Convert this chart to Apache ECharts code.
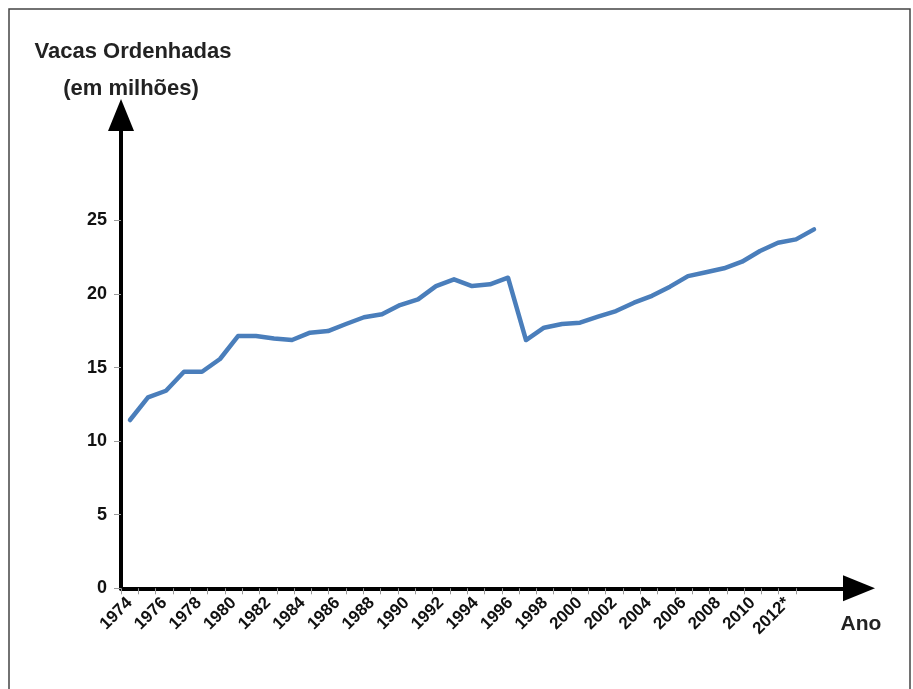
<!DOCTYPE html>
<html><head><meta charset="utf-8">
<script src="https://cdn.jsdelivr.net/npm/echarts@6/dist/echarts.min.js"></script>
<style>html,body{margin:0;padding:0;background:#fff}#c{width:913px;height:689px}</style>
</head><body><div id="c"></div>
<script>
const years = [1974,1975,1976,1977,1978,1979,1980,1981,1982,1983,1984,1985,1986,1987,1988,1989,1990,1991,1992,1993,1994,1995,1996,1997,1998,1999,2000,2001,2002,2003,2004,2005,2006,2007,2008,2009,2010,2011,2012];
const cows = [11.45,12.99,13.44,14.73,14.73,15.6,17.16,17.16,17.0,16.89,17.39,17.5,17.98,18.44,18.64,19.27,19.66,20.56,21.02,20.56,20.68,21.13,16.89,17.73,17.98,18.07,18.48,18.86,19.43,19.9,20.52,21.24,21.5,21.77,22.22,22.95,23.51,23.74,24.42];
const yearLabels = ['1974','1975','1976','1977','1978','1979','1980','1981','1982','1983','1984','1985','1986','1987','1988','1989','1990','1991','1992','1993','1994','1995','1996','1997','1998','1999','2000','2001','2002','2003','2004','2005','2006','2007','2008','2009','2010','2011','2012*'];
const yTickValues = [0,5,10,15,20,25];
const yName1 = 'Vacas Ordenhadas';
const yName2 = '(em milhões)';
const xName = 'Ano';

const chart = echarts.init(document.getElementById('c'), null, {renderer:'canvas'});
const sans = '"Liberation Sans", Arial, sans-serif';
chart.setOption({
  animation: false,
  backgroundColor: '#fff',
  graphic: [{
    type: 'rect', shape: {x: 9, y: 9, width: 901, height: 700},
    style: {fill: 'none', stroke: '#444', lineWidth: 1.5}, z: 100
  }],
  title: [
    {text: yName1, left: 128, top: 36, textAlign: 'center', textStyle: {fontSize: 22, fontWeight: 'bold', fontFamily: sans, color: '#222'}},
    {text: yName2, left: 126, top: 73, textAlign: 'center', textStyle: {fontSize: 22, fontWeight: 'bold', fontFamily: sans, color: '#222'}},
    {text: xName, left: 856, top: 609, textAlign: 'center', textStyle: {fontSize: 21, fontWeight: 'bold', fontFamily: sans, color: '#222'}}
  ],
  grid: [
    {left: 121, right: 54, top: 115, bottom: 100.7},
    {left: 121, width: 675, top: 220.5, bottom: 100.7}
  ],
  xAxis: [
    {gridIndex: 0, type: 'value', min: 1973.5, max: 2014.5,
     axisLine: {show: true, lineStyle: {color: '#000', width: 4}, symbol: ['none', 'triangle'], symbolSize: [26, 32]},
     axisTick: {show: false}, axisLabel: {show: false}, splitLine: {show: false}},
    {gridIndex: 1, type: 'category', data: yearLabels, boundaryGap: true,
     axisLine: {show: false},
     axisTick: {show: true, interval: 0, length: 6, lineStyle: {color: '#999', width: 1}},
     axisLabel: {interval: 1, rotate: 45, fontSize: 17, fontWeight: 'bold', fontFamily: sans, color: '#111', margin: 12},
     splitLine: {show: false}}
  ],
  yAxis: [
    {gridIndex: 0, type: 'value', min: 0, max: 32.2,
     axisLine: {show: true, lineStyle: {color: '#000', width: 4}, symbol: ['none', 'triangle'], symbolSize: [26, 32]},
     axisTick: {show: false}, axisLabel: {show: false}, splitLine: {show: false}},
    {gridIndex: 1, type: 'value', min: 0, max: 25, interval: 5,
     axisLine: {show: false},
     axisTick: {show: true, length: 7, lineStyle: {color: '#999', width: 1}},
     axisLabel: {fontSize: 18, fontWeight: 'bold', fontFamily: sans, color: '#111', margin: 14},
     splitLine: {show: false}}
  ],
  series: [{
    type: 'line', xAxisIndex: 0, yAxisIndex: 0,
    data: years.map((y, i) => [y, cows[i]]),
    showSymbol: false, symbol: 'none',
    lineStyle: {color: '#4a7ebb', width: 4.5, cap: 'round', join: 'round'}
  }]
});
</script></body></html>
